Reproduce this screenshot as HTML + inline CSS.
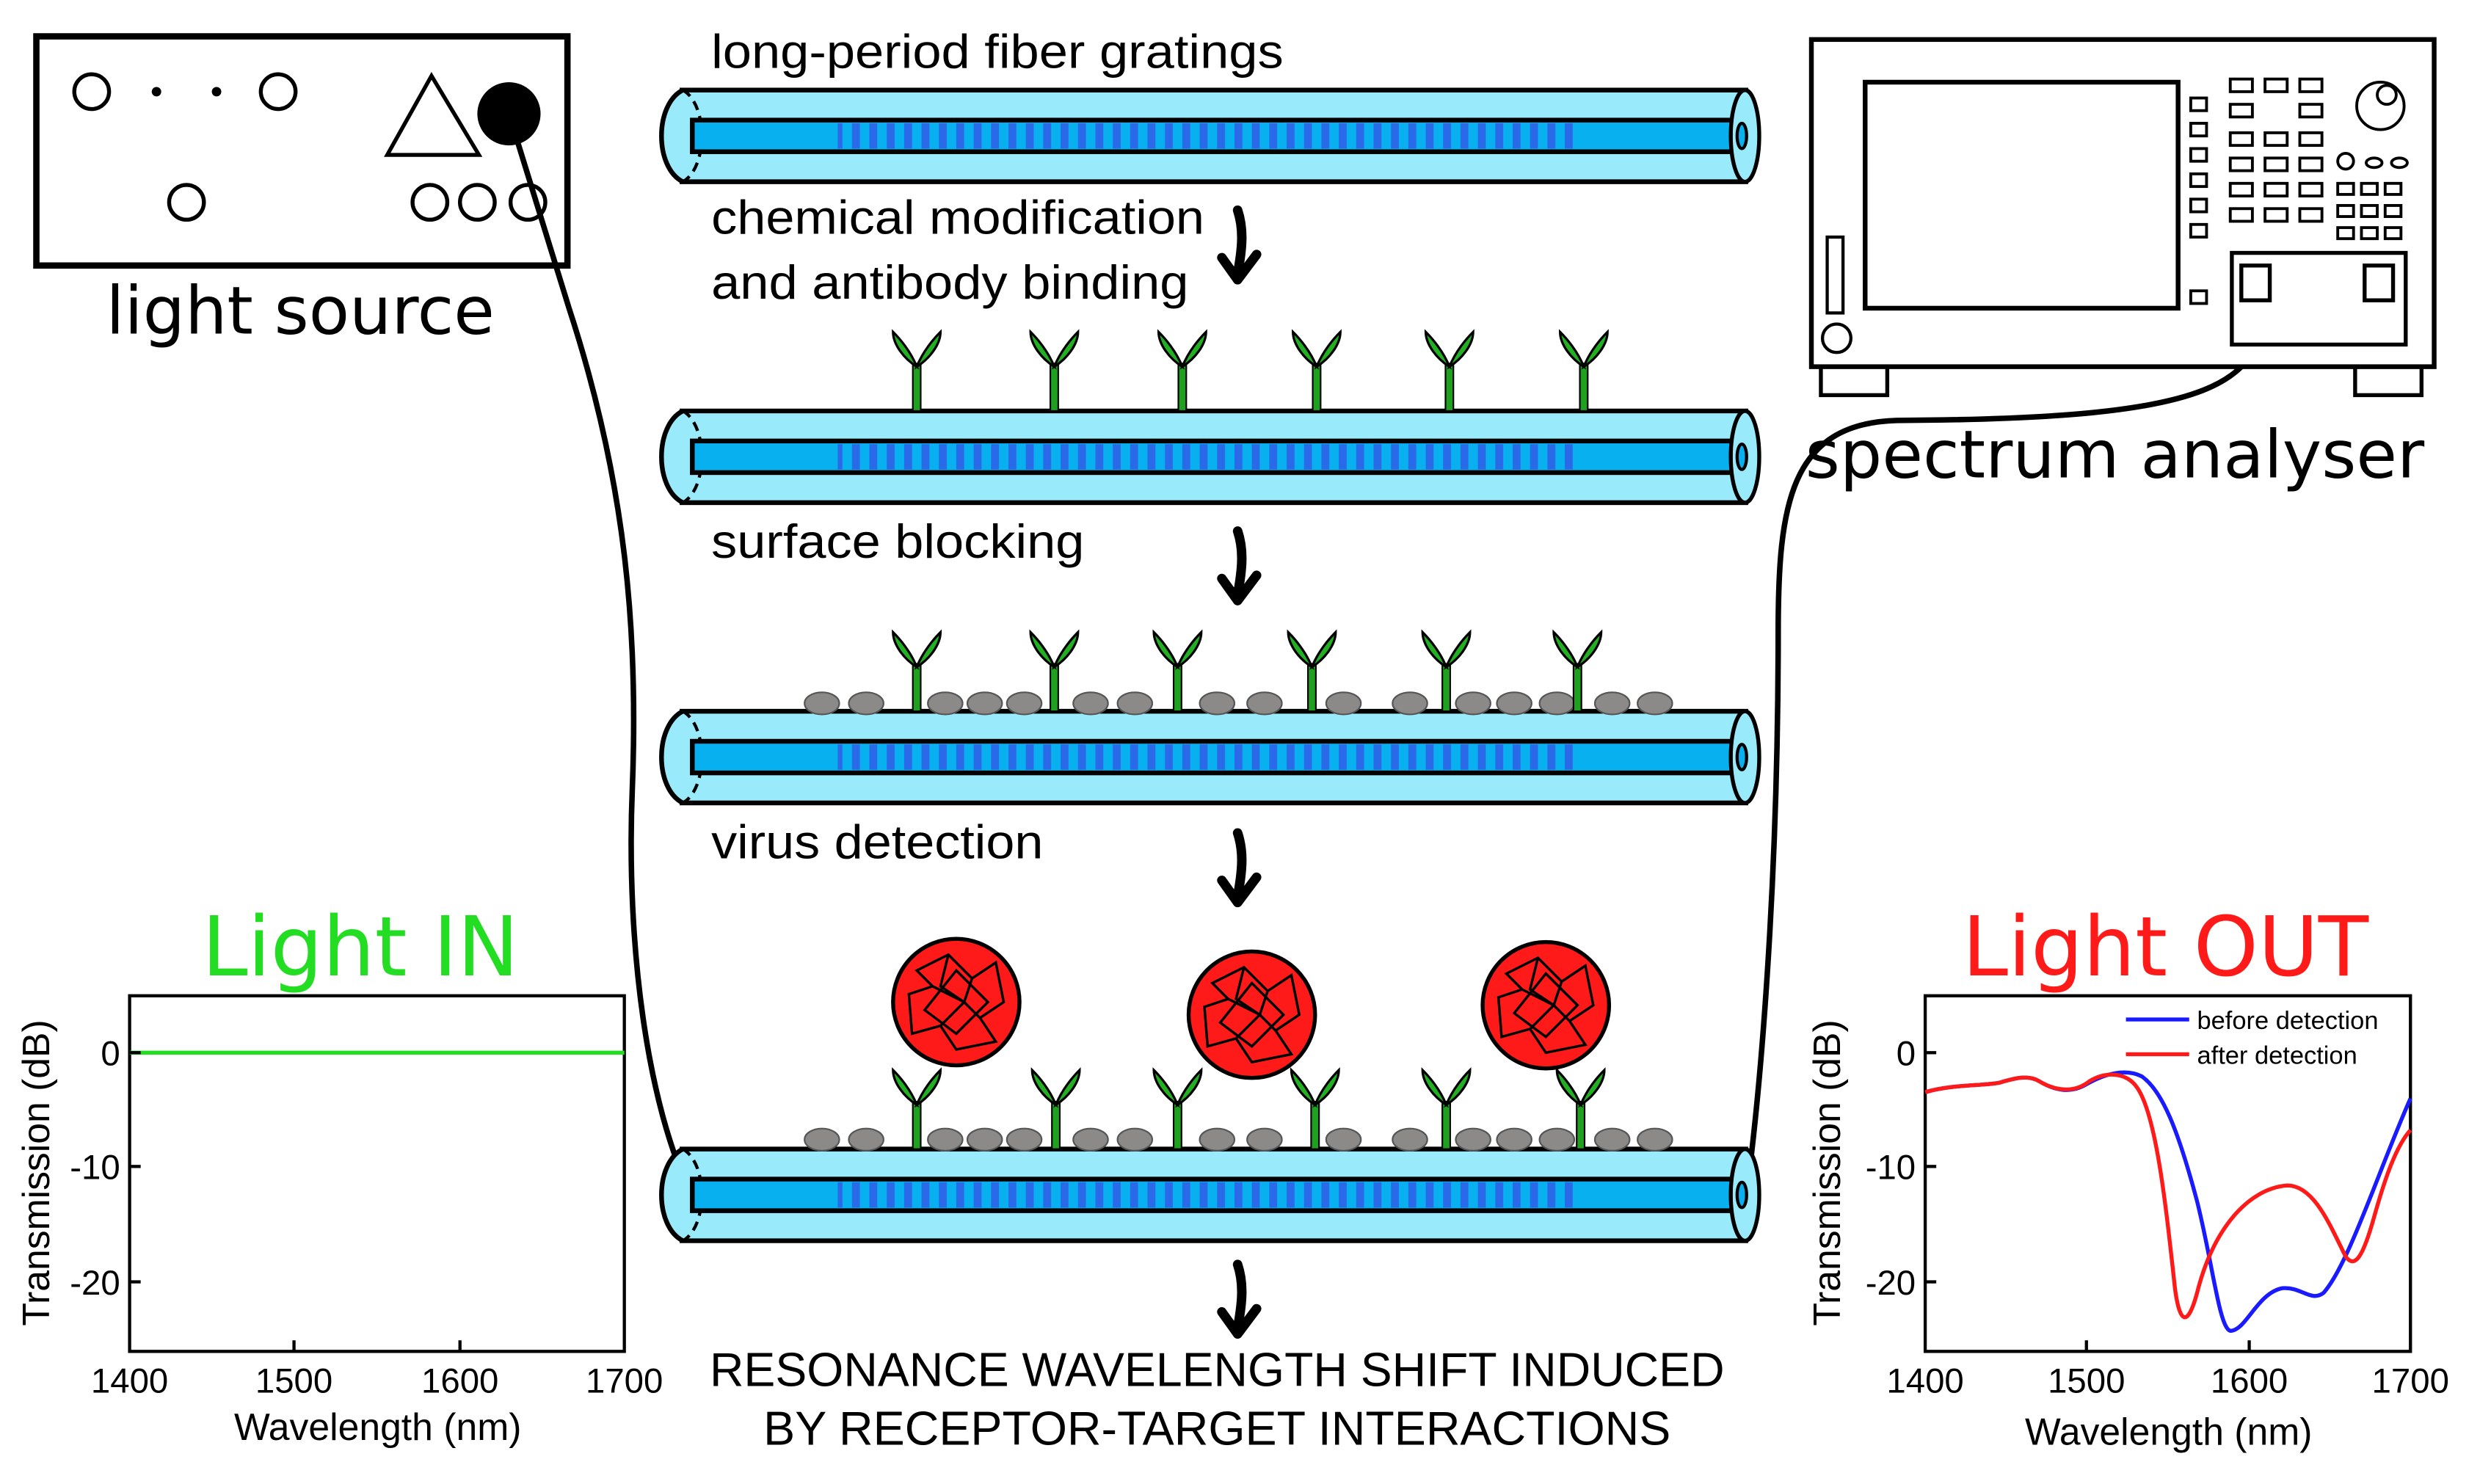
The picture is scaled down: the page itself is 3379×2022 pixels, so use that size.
<!DOCTYPE html>
<html><head><meta charset="utf-8"><style>html,body{margin:0;padding:0;background:#fff}svg{display:block}text{font-family:"Liberation Sans",sans-serif}.dv{font-family:"DejaVu Sans",sans-serif}</style></head><body>
<svg width="3379" height="2022" viewBox="0 0 1569 938.9" preserveAspectRatio="none" xmlns="http://www.w3.org/2000/svg">
<defs>
<pattern id="gr" width="11" height="20" patternUnits="userSpaceOnUse"><rect width="11" height="20" fill="#08b0ef"/><rect x="0" width="5" height="20" fill="#2a6ae8"/></pattern>
<g id="fib">
<rect x="430" y="-29" width="676" height="58" fill="#99eafa"/>
<line x1="430" y1="-29" x2="1106" y2="-29" stroke="#000" stroke-width="3"/>
<line x1="430" y1="29" x2="1106" y2="29" stroke="#000" stroke-width="3"/>
<path d="M432 -29 C414 -20 414 20 432 29" fill="#99eafa" stroke="#000" stroke-width="3"/>
<path d="M432 -29 C448 -20 448 20 432 29" fill="none" stroke="#000" stroke-width="2" stroke-dasharray="6 4"/>
<rect x="438" y="-10" width="664" height="20" fill="#08b0ef" stroke="#000" stroke-width="3"/>
<rect x="530" y="-8" width="470" height="16" fill="url(#gr)"/>
<ellipse cx="1104" cy="0" rx="9" ry="29" fill="#99eafa" stroke="#000" stroke-width="2.5"/>
<ellipse cx="1102" cy="0" rx="3" ry="8" fill="#08b0ef" stroke="#000" stroke-width="2"/>
</g>
<g id="ab">
<rect x="-2.5" y="-30" width="5" height="30" fill="#1fa01f" stroke="#000" stroke-width="1"/>
<path d="M0 -28 C-4 -38 -11 -46 -15 -50 C-15 -42 -8 -33 0 -28Z" fill="#22b022" stroke="#000" stroke-width="1.5"/>
<path d="M0 -28 C4 -38 11 -46 15 -50 C15 -42 8 -33 0 -28Z" fill="#22b022" stroke="#000" stroke-width="1.5"/>
</g>
<ellipse id="bl" cx="0" cy="0" rx="11" ry="7" fill="#8c8a88" stroke="#555" stroke-width="1"/>
<g id="vir">
<circle r="40" fill="#ff1a1a" stroke="#000" stroke-width="2.5"/>
<path d="M-25 -20 L-5 -30 L10 -15 L25 -25 L30 0 L15 10 L25 25 L0 30 L-10 15 L-28 20 L-30 -5 L-15 -10Z M-5 -30 L-10 -10 L5 0 L-10 15 M10 -15 L5 0 L15 10 M-15 -10 L5 0 M-20 5 L0 -20 L20 0 L0 20Z" fill="none" stroke="#000" stroke-width="1.6"/>
</g>
<path id="arr" d="M0 0 C4 12 3 24 0 40 M-10 30 L0 44 L12 28" fill="none" stroke="#000" stroke-width="6" stroke-linecap="round" stroke-linejoin="round"/>
</defs>

<rect x="23" y="23" width="336" height="145" fill="none" stroke="#000" stroke-width="4"/>
<g fill="none" stroke="#000" stroke-width="2.5">
<circle cx="58" cy="58" r="11"/><circle cx="176" cy="58" r="11"/><circle cx="118" cy="128" r="11"/>
<circle cx="272" cy="128" r="11"/><circle cx="302" cy="128" r="11"/><circle cx="334" cy="128" r="11"/>
<path d="M273 48 L245 98 L303 98Z"/>
</g>
<circle cx="99" cy="58" r="3" fill="#000"/><circle cx="137" cy="58" r="3" fill="#000"/>
<circle cx="322" cy="72" r="20" fill="#000"/>
<text class="dv" x="190" y="211" font-size="42" text-anchor="middle">light source</text>

<path d="M322 72 L360 195 C396 305 404 400 400 500 C396 600 410 700 437 755" fill="none" stroke="#000" stroke-width="3.5"/>
<path d="M1428 178 C1442 245 1400 265 1200 266 C1132 268 1125 320 1125 400 C1125 550 1115 680 1105 755" fill="none" stroke="#000" stroke-width="3.5"/>

<rect x="1146" y="25" width="394" height="207" fill="#fff" stroke="#000" stroke-width="3"/>
<rect x="1180" y="52" width="198" height="143" fill="none" stroke="#000" stroke-width="3"/>
<rect x="1156" y="150" width="10" height="48" fill="none" stroke="#000" stroke-width="2"/>
<circle cx="1162" cy="214" r="9" fill="none" stroke="#000" stroke-width="2"/>
<rect x="1152" y="232" width="42" height="18" fill="none" stroke="#000" stroke-width="2.5"/>
<rect x="1490" y="232" width="42" height="18" fill="none" stroke="#000" stroke-width="2.5"/>
<g fill="none" stroke="#000" stroke-width="1.8">
<rect x="1386" y="62" width="10" height="8"/><rect x="1386" y="78" width="10" height="8"/><rect x="1386" y="94" width="10" height="8"/><rect x="1386" y="110" width="10" height="8"/><rect x="1386" y="126" width="10" height="8"/><rect x="1386" y="142" width="10" height="8"/><rect x="1386" y="184" width="10" height="8"/>
<rect x="1411" y="50" width="14" height="8"/><rect x="1433" y="50" width="14" height="8"/><rect x="1455" y="50" width="14" height="8"/>
<rect x="1411" y="66" width="14" height="8"/><rect x="1455" y="66" width="14" height="8"/>
<rect x="1411" y="84" width="14" height="8"/><rect x="1433" y="84" width="14" height="8"/><rect x="1455" y="84" width="14" height="8"/>
<rect x="1411" y="100" width="14" height="8"/><rect x="1433" y="100" width="14" height="8"/><rect x="1455" y="100" width="14" height="8"/>
<rect x="1411" y="116" width="14" height="8"/><rect x="1433" y="116" width="14" height="8"/><rect x="1455" y="116" width="14" height="8"/>
<rect x="1411" y="132" width="14" height="8"/><rect x="1433" y="132" width="14" height="8"/><rect x="1455" y="132" width="14" height="8"/>
<rect x="1479" y="116" width="10" height="7"/><rect x="1494" y="116" width="10" height="7"/><rect x="1509" y="116" width="10" height="7"/>
<rect x="1479" y="130" width="10" height="7"/><rect x="1494" y="130" width="10" height="7"/><rect x="1509" y="130" width="10" height="7"/>
<rect x="1479" y="144" width="10" height="7"/><rect x="1494" y="144" width="10" height="7"/><rect x="1509" y="144" width="10" height="7"/>
<circle cx="1506" cy="67" r="15"/><circle cx="1510" cy="60" r="6"/>
<circle cx="1484" cy="102" r="5"/><ellipse cx="1502" cy="103" rx="5" ry="3"/><ellipse cx="1518" cy="103" rx="5" ry="3"/>
<rect x="1412" y="160" width="110" height="58" stroke-width="2.5"/>
<rect x="1418" y="168" width="18" height="22" stroke-width="2.5"/><rect x="1496" y="168" width="18" height="22" stroke-width="2.5"/>
</g>
<text class="dv" x="1338" y="302" font-size="42" text-anchor="middle">spectrum analyser</text>

<use href="#fib" y="86"/>
<use href="#fib" y="289"/>
<use href="#fib" y="479"/>
<use href="#fib" y="756"/>

<g transform="translate(0,260)"><use href="#ab" x="580"/><use href="#ab" x="667"/><use href="#ab" x="748"/><use href="#ab" x="833"/><use href="#ab" x="917"/><use href="#ab" x="1002"/></g>
<g transform="translate(0,445)"><use href="#bl" x="520"/><use href="#bl" x="548"/><use href="#bl" x="598"/><use href="#bl" x="623"/><use href="#bl" x="648"/><use href="#bl" x="690"/><use href="#bl" x="718"/><use href="#bl" x="770"/><use href="#bl" x="800"/><use href="#bl" x="850"/><use href="#bl" x="892"/><use href="#bl" x="932"/><use href="#bl" x="958"/><use href="#bl" x="985"/><use href="#bl" x="1020"/><use href="#bl" x="1047"/></g>
<g transform="translate(0,450)"><use href="#ab" x="580"/><use href="#ab" x="667"/><use href="#ab" x="745"/><use href="#ab" x="830"/><use href="#ab" x="915"/><use href="#ab" x="998"/></g>
<g transform="translate(0,721)"><use href="#bl" x="520"/><use href="#bl" x="548"/><use href="#bl" x="598"/><use href="#bl" x="623"/><use href="#bl" x="648"/><use href="#bl" x="690"/><use href="#bl" x="718"/><use href="#bl" x="770"/><use href="#bl" x="800"/><use href="#bl" x="850"/><use href="#bl" x="892"/><use href="#bl" x="932"/><use href="#bl" x="958"/><use href="#bl" x="985"/><use href="#bl" x="1020"/><use href="#bl" x="1047"/></g>
<use href="#vir" x="605" y="634"/><use href="#vir" x="792" y="642"/><use href="#vir" x="978" y="636"/>
<g transform="translate(0,727)"><use href="#ab" x="580"/><use href="#ab" x="668"/><use href="#ab" x="745"/><use href="#ab" x="832"/><use href="#ab" x="915"/><use href="#ab" x="1000"/></g>

<g font-size="30">
<text x="450" y="43" textLength="362" lengthAdjust="spacingAndGlyphs">long-period fiber gratings</text>
<text x="450" y="148" textLength="312" lengthAdjust="spacingAndGlyphs">chemical modification</text>
<text x="450" y="189" textLength="302" lengthAdjust="spacingAndGlyphs">and antibody binding</text>
<text x="450" y="353" textLength="236" lengthAdjust="spacingAndGlyphs">surface blocking</text>
<text x="450" y="543" textLength="210" lengthAdjust="spacingAndGlyphs">virus detection</text>
<text x="770" y="877" text-anchor="middle" textLength="642" lengthAdjust="spacingAndGlyphs">RESONANCE WAVELENGTH SHIFT INDUCED</text>
<text x="770" y="914" text-anchor="middle" textLength="574" lengthAdjust="spacingAndGlyphs">BY RECEPTOR-TARGET INTERACTIONS</text>
</g>
<use href="#arr" x="783" y="133"/><use href="#arr" x="783" y="336"/><use href="#arr" x="783" y="527"/><use href="#arr" x="783" y="800"/>

<text class="dv" x="228" y="617" font-size="52" fill="#22dd22" text-anchor="middle">Light IN</text>
<rect x="82" y="630" width="313" height="225" fill="none" stroke="#000" stroke-width="2"/>
<line x1="82" y1="666" x2="395" y2="666" stroke="#22dd22" stroke-width="2.5"/>
<g stroke="#000" stroke-width="2"><line x1="82" y1="666" x2="89" y2="666"/><line x1="82" y1="738" x2="89" y2="738"/><line x1="82" y1="811" x2="89" y2="811"/><line x1="186" y1="855" x2="186" y2="848"/><line x1="291" y1="855" x2="291" y2="848"/></g>
<g font-size="22"><text x="76" y="674" text-anchor="end">0</text><text x="76" y="746" text-anchor="end">-10</text><text x="76" y="819" text-anchor="end">-20</text>
<text x="82" y="881" text-anchor="middle">1400</text><text x="186" y="881" text-anchor="middle">1500</text><text x="291" y="881" text-anchor="middle">1600</text><text x="395" y="881" text-anchor="middle">1700</text>
<text x="239" y="911" text-anchor="middle" font-size="24">Wavelength (nm)</text>
<text transform="translate(31,742) rotate(-90)" text-anchor="middle" font-size="24">Transmission (dB)</text></g>

<text class="dv" x="1370" y="617" font-size="52" fill="#ff1a1a" text-anchor="middle">Light OUT</text>
<rect x="1218" y="630" width="307" height="225" fill="none" stroke="#000" stroke-width="2"/>
<g stroke="#000" stroke-width="2"><line x1="1218" y1="666" x2="1225" y2="666"/><line x1="1218" y1="738" x2="1225" y2="738"/><line x1="1218" y1="811" x2="1225" y2="811"/><line x1="1320" y1="855" x2="1320" y2="848"/><line x1="1423" y1="855" x2="1423" y2="848"/></g>
<g font-size="22"><text x="1212" y="674" text-anchor="end">0</text><text x="1212" y="746" text-anchor="end">-10</text><text x="1212" y="819" text-anchor="end">-20</text>
<text x="1218" y="881" text-anchor="middle">1400</text><text x="1320" y="881" text-anchor="middle">1500</text><text x="1423" y="881" text-anchor="middle">1600</text><text x="1525" y="881" text-anchor="middle">1700</text>
<text x="1372" y="914" text-anchor="middle" font-size="24">Wavelength (nm)</text>
<text transform="translate(1164,742) rotate(-90)" text-anchor="middle" font-size="24">Transmission (dB)</text></g>
<path d="M1218 691 C1235 686 1255 687 1265 685 C1275 682 1283 680 1290 684 C1300 690 1310 692 1320 686 C1332 679 1345 676 1355 681 C1368 690 1378 715 1390 760 C1400 800 1404 840 1411 842 C1421 842 1428 818 1444 815 C1456 814 1462 824 1470 818 C1486 800 1505 740 1525 695" fill="none" stroke="#1a1aff" stroke-width="2.5"/>
<path d="M1218 691 C1235 686 1255 687 1265 685 C1275 682 1283 680 1290 684 C1300 690 1312 692 1322 684 C1332 678 1345 678 1352 688 C1364 705 1370 760 1376 815 C1379 838 1384 840 1390 818 C1400 778 1422 752 1447 750 C1464 750 1474 775 1484 795 C1490 803 1495 795 1502 770 C1509 745 1516 725 1525 715" fill="none" stroke="#ff1a1a" stroke-width="2.5"/>
<line x1="1345" y1="645" x2="1385" y2="645" stroke="#1a1aff" stroke-width="2.5"/>
<line x1="1345" y1="667" x2="1385" y2="667" stroke="#ff1a1a" stroke-width="2.5"/>
<g font-size="16"><text x="1390" y="651">before detection</text><text x="1390" y="673">after detection</text></g>
</svg>
</body></html>
